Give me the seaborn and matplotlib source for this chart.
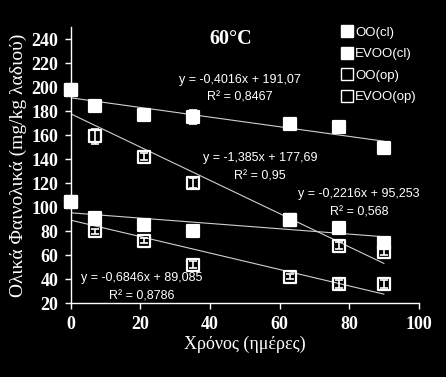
import numpy as np
import pandas as pd
import matplotlib
matplotlib.use("Agg")
import matplotlib.pyplot as plt
from matplotlib.lines import Line2D
import seaborn as sns

# ------------------------------------------------------------------
# data
# ------------------------------------------------------------------
days = [0, 7, 21, 35, 63, 77, 90]
oo_cl = [198, 184, 177, 175, 169, 167, 149]
evoo_cl = [104, 91, 85, 80, 89, 83, 70]
oo_op = [198, 159, 142, 120, 89, 68, 63]
evoo_op = [104, 80, 72, 52, 42, 36, 36]

oo_cl_err = [3, 2, 5, 6, 2, 2, 2]
evoo_cl_err = [3, 2, 2, 2, 2, 2, 2]
oo_op_err = [3, 6, 3, 4, 2, 3, 3]
evoo_op_err = [2, 2, 2, 3, 2, 3, 3]

series_names = ['OO(cl)', 'EVOO(cl)', 'OO(op)', 'EVOO(op)']
slopes = [-0.4016, -0.2216, -1.385, -0.6846]
intercepts = [191.07, 95.253, 177.69, 89.085]
eq_labels = ['y = -0,4016x + 191,07', 'y = -0,2216x + 95,253',
             'y = -1,385x + 177,69', 'y = -0,6846x + 89,085']
r2_labels = ['R² = 0,8467', 'R² = 0,568', 'R² = 0,95', 'R² = 0,8786']
eq_pos = [(48.6, 205.8), (82.8, 110.8), (54.3, 140.8), (20.4, 40.8)]
r2_pos = [(48.6, 191.7), (82.8, 95.8), (54.3, 125.8), (20.4, 25.8)]

df = pd.DataFrame({
    'day': days * 4,
    'value': oo_cl + evoo_cl + oo_op + evoo_op,
    'err': oo_cl_err + evoo_cl_err + oo_op_err + evoo_op_err,
    'series': np.repeat(series_names, len(days)),
})

# ------------------------------------------------------------------
# plot
# ------------------------------------------------------------------
sns.set_style("dark")
plt.rcParams['font.family'] = ['Liberation Serif', 'DejaVu Serif']
sans = ['Liberation Sans', 'DejaVu Sans']

fig = plt.figure(figsize=(4.46, 3.77), dpi=100, facecolor='black')
ax = fig.add_axes([0.159, 0.196, 0.78, 0.732])
ax.set_facecolor('black')

# trend lines
xfit = np.array([0, 90])
for s, m, b in zip(series_names, slopes, intercepts):
    fit = pd.DataFrame({'x': xfit, 'y': m * xfit + b})
    sns.lineplot(data=fit, x='x', y='y', color='#d0d0d0', linewidth=0.8, ax=ax, zorder=1)

filled = {'OO(cl)': True, 'EVOO(cl)': True, 'OO(op)': False, 'EVOO(op)': False}
draw_order = ['OO(op)', 'EVOO(op)', 'OO(cl)', 'EVOO(cl)']
for s in draw_order:
    d = df[df['series'] == s]
    eb = ax.errorbar(d['day'], d['value'], yerr=d['err'], fmt='none', ecolor='white',
                     elinewidth=1.2, capsize=3, capthick=1.2, zorder=2)
    for art in eb.lines[1] + eb.lines[2]:
        art.set_clip_on(False)
    sns.scatterplot(data=d, x='day', y='value', marker='s', s=75,
                    color='white' if filled[s] else 'none',
                    edgecolor='white', linewidth=1.6, ax=ax, zorder=3,
                    legend=False, clip_on=False)

for lab, (x, y) in zip(eq_labels, eq_pos):
    ax.text(x, y, lab, color='white', fontsize=9, ha='center', va='center', family=sans)
for lab, (x, y) in zip(r2_labels, r2_pos):
    ax.text(x, y, lab, color='white', fontsize=9, ha='center', va='center', family=sans)

ax.text(46, 240, '60°C', color='white', fontsize=14.5, fontweight='bold',
        ha='center', va='center')

ax.set_xlim(0, 100)
ax.set_ylim(20, 250)
ax.set_xticks(range(0, 101, 20))
ax.set_yticks(range(20, 241, 20))
ax.grid(False)
for side in ['top', 'right']:
    ax.spines[side].set_visible(False)
for side in ['left', 'bottom']:
    ax.spines[side].set_visible(True)
    ax.spines[side].set_color('white')
    ax.spines[side].set_linewidth(1)
ax.tick_params(colors='white', labelsize=13, direction='out', length=4, width=1,
               bottom=True, left=True, pad=5)
for t in ax.get_xticklabels() + ax.get_yticklabels():
    t.set_fontweight('bold')
ax.set_xlabel('Χρόνος (ημέρες)', color='white', fontsize=13, labelpad=2)
ax.set_ylabel('Ολικά Φαινολικά (mg/kg λαδιού)', color='white', fontsize=14, labelpad=3)

handles = [Line2D([], [], marker='s', linestyle='none', markersize=8,
                  markerfacecolor='white' if filled[s] else 'black',
                  markeredgecolor='white', markeredgewidth=1) for s in series_names]
leg = ax.legend(handles, series_names, loc='upper left', bbox_to_anchor=(0.745, 1.045),
                frameon=False, handletextpad=0.2, labelspacing=0.7, handlelength=0.8,
                prop={'family': sans, 'size': 9.5})
for t in leg.get_texts():
    t.set_color('white')

fig.savefig('out.png', dpi=100, facecolor='black')
